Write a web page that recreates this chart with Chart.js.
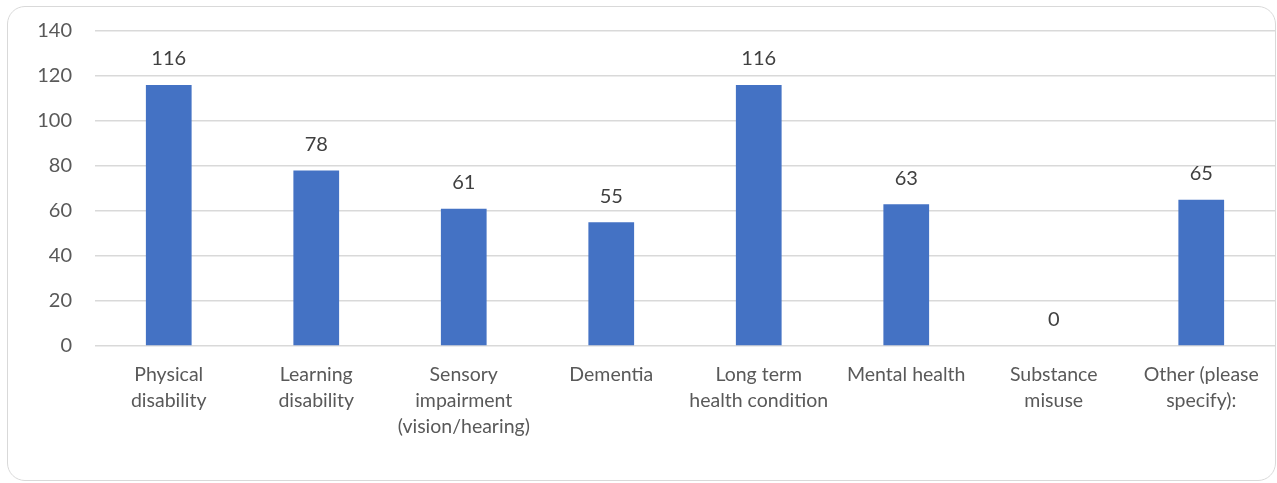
<!DOCTYPE html>
<html><head><meta charset="utf-8">
<script src="https://cdn.jsdelivr.net/npm/chart.js@4"></script>
<style>
html,body{margin:0;padding:0;background:#fff;}
#wrap{position:relative;width:1277px;height:483px;}
#frame{position:absolute;box-sizing:border-box;left:7px;top:6px;width:1269px;height:475px;border:1.5px solid #d9d9d9;border-radius:18px;pointer-events:none;}
canvas{position:absolute;left:0;top:0;}
</style></head><body>
<div id="wrap"><canvas id="c" width="1277" height="483"></canvas><div id="frame"></div></div>
<script>
const categories = [
  ["Physical","disability"],
  ["Learning","disability"],
  ["Sensory","impairment","(vision/hearing)"],
  ["Dementia"],
  ["Long term","health condition"],
  ["Mental health"],
  ["Substance","misuse"],
  ["Other (please","specify):"]
];
const counts = [116, 78, 61, 55, 116, 63, 0, 65];
const yTicks = [0, 20, 40, 60, 80, 100, 120, 140];

const FONT = "Lato, 'Open Sans', sans-serif";
const TEXT = "#595959";

const labelPlugin = {
  id: 'valueLabels',
  afterDatasetsDraw(chart) {
    const ctx = chart.ctx;
    const meta = chart.getDatasetMeta(0);
    ctx.save();
    ctx.font = "20px " + FONT;
    ctx.fillStyle = "#404040";
    ctx.textAlign = "center";
    ctx.textBaseline = "middle";
    meta.data.forEach((bar, i) => {
      ctx.fillText(String(counts[i]), bar.x, bar.y - 26);
    });
    ctx.restore();
  }
};

new Chart(document.getElementById('c'), {
  type: 'bar',
  data: {
    labels: categories,
    datasets: [{
      data: counts,
      backgroundColor: '#4472c4',
      borderWidth: 0,
      barPercentage: 0.31,
      categoryPercentage: 1.0
    }]
  },
  options: {
    responsive: false,
    animation: false,
    layout: { padding: { left: 0, right: 2, top: 31, bottom: 0 } },
    plugins: { legend: { display: false }, tooltip: { enabled: false } },
    scales: {
      y: {
        min: 0, max: 140,
        afterFit(s) { s.width = 95; s.paddingTop = 0; s.paddingBottom = 0; },
        afterBuildTicks(s) { s.ticks = yTicks.map(v => ({ value: v })); },
        border: { display: false },
        grid: { color: '#d9d9d9', lineWidth: 1.5, drawTicks: false },
        ticks: { color: TEXT, font: { family: FONT, size: 20 }, padding: 23 }
      },
      x: {
        afterFit(s) { s.height = 137; },
        border: { display: false },
        grid: { display: false, drawTicks: false },
        ticks: { color: TEXT, font: { family: FONT, size: 19.5, lineHeight: 1.33 }, padding: 16, maxRotation: 0, autoSkip: false }
      }
    }
  },
  plugins: [labelPlugin]
});
</script>
</body></html>
